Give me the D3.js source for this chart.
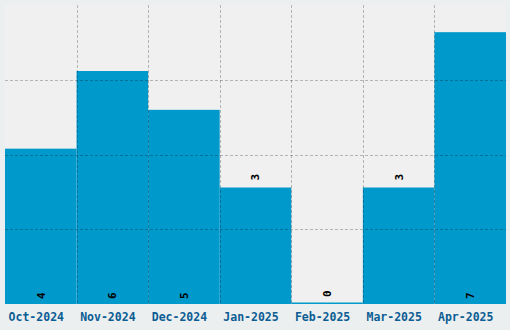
<!DOCTYPE html>
<html>
<head>
<meta charset="utf-8">
<script src="https://cdn.jsdelivr.net/npm/d3@7"></script>
<style>
  body { margin: 0; background: #ecefef; }
  svg { display: block; }
</style>
</head>
<body>
<div id="chart"></div>
<script>
// monthly counts
var months = ["Oct-2024", "Nov-2024", "Dec-2024", "Jan-2025", "Feb-2025", "Mar-2025", "Apr-2025"];
var counts = [4, 6, 5, 3, 0, 3, 7];

var W = 510, H = 330;
var margin = {top: 5, right: 4, bottom: 26, left: 5};
var iw = W - margin.left - margin.right,
    ih = H - margin.top - margin.bottom;

var svg = d3.select("#chart").append("svg")
    .attr("width", W)
    .attr("height", H);

var g = svg.append("g")
    .attr("transform", "translate(" + margin.left + "," + margin.top + ")");

g.append("rect")
    .attr("width", iw)
    .attr("height", ih)
    .attr("fill", "#f0f0f0");

var x = d3.scaleBand().domain(months).range([0, iw]).padding(0);
var y = d3.scaleLinear().domain([0, d3.max(counts) * 1.1]).range([ih, 0]);

var data = months.map(function (m, i) { return {m: m, v: counts[i]}; });

// bars (zero still shows a thin line)
g.selectAll("rect.bar").data(data).enter().append("rect")
    .attr("class", "bar")
    .attr("x", function (d) { return x(d.m); })
    .attr("width", x.bandwidth())
    .attr("y", function (d) { return Math.min(y(d.v), ih - 1.5); })
    .attr("height", function (d) { return Math.max(ih - y(d.v), 1.5); })
    .attr("fill", "#0099cc");

// grid on top of bars
var grid = g.append("g")
    .attr("stroke", "rgba(0,0,0,0.25)")
    .attr("stroke-dasharray", "3,2")
    .attr("stroke-width", 1);

months.slice(1).forEach(function (m) {
    var gx = Math.round(x(m)) + 0.5;
    grid.append("line").attr("x1", gx).attr("x2", gx).attr("y1", 0).attr("y2", ih);
});
[1, 2, 3].forEach(function (k) {
    var gy = Math.round(ih * k / 4) + 0.5;
    grid.append("line").attr("x1", 0).attr("x2", iw).attr("y1", gy).attr("y2", gy);
});

// value labels, rotated
g.selectAll("text.val").data(data).enter().append("text")
    .attr("class", "val")
    .attr("transform", function (d) {
        var cx = x(d.m) + x.bandwidth() / 2;
        var ty = d.v >= 4 ? ih - 5 : y(d.v) - 7;
        return "translate(" + cx + "," + ty + ") rotate(-90)";
    })
    .attr("dy", "0.35em")
    .attr("font-family", "DejaVu Sans Mono, monospace")
    .attr("font-weight", "bold")
    .attr("font-size", 11)
    .attr("fill", "#000")
    .text(function (d) { return d.v; });

// x axis labels
var xAxis = g.append("g")
    .attr("transform", "translate(0," + ih + ")")
    .call(d3.axisBottom(x).tickSize(0).tickPadding(9));
xAxis.select(".domain").remove();
xAxis.selectAll("text")
    .attr("dx", -4.5)
    .attr("font-family", "DejaVu Sans Mono, monospace")
    .attr("font-weight", "bold")
    .attr("font-size", 11.5)
    .attr("fill", "#0b5d94");
</script>
</body>
</html>
